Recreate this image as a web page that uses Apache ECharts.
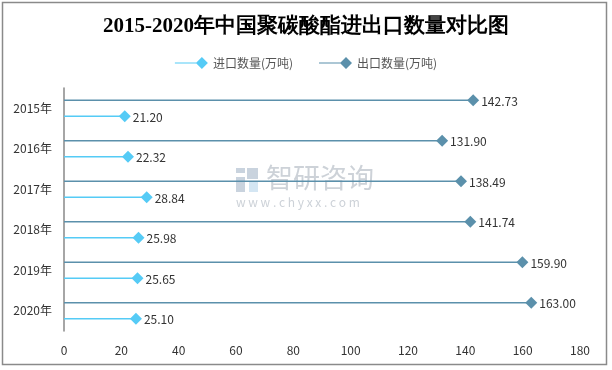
<!DOCTYPE html>
<html><head><meta charset="utf-8">
<script src="https://cdn.jsdelivr.net/npm/echarts@6/dist/echarts.min.js"></script>
<style>html,body{margin:0;padding:0;background:#fff}#c{width:612px;height:370px}</style>
</head><body><div id="c"></div>
<script>
const categories = ['2015年','2016年','2017年','2018年','2019年','2020年'];
const importValues = [21.20, 22.32, 28.84, 25.98, 25.65, 25.10];
const exportValues = [142.73, 131.90, 138.49, 141.74, 159.90, 163.00];
const xTicks = [0, 20, 40, 60, 80, 100, 120, 140, 160, 180];

const importColor = '#55CBF6';
const exportColor = '#5B90AB';
const font = '"Noto Sans CJK SC", "Noto Sans", sans-serif';

function makeRender(offsetFrac, color) {
  return function (params, api) {
    const v = api.value(0), c = api.value(1);
    const s = api.coord([0, c]);
    const e = api.coord([v, c]);
    const y = s[1] + api.size([0, 1])[1] * offsetFrac;
    const r = 6;
    return {
      type: 'group',
      children: [
        { type: 'line', shape: { x1: s[0], y1: y, x2: e[0], y2: y }, style: { stroke: color, lineWidth: 1.5 } },
        { type: 'polygon', shape: { points: [[e[0] - r, y], [e[0], y - r], [e[0] + r, y], [e[0], y + r]] }, style: { fill: color } },
        { type: 'text', style: { text: v.toFixed(2), x: e[0] + 8, y: y + 1, verticalAlign: 'middle', align: 'left', fill: '#333', font: '12px ' + font } }
      ]
    };
  };
}

const legendIcon = 'path://M0,5.4 L27,5.4 L27,6.6 L0,6.6 Z M27,0 L33,6 L27,12 L21,6 Z';

const chart = echarts.init(document.getElementById('c'), null, { renderer: 'canvas' });
chart.setOption({
  animation: false,
  title: {
    text: '2015-2020年中国聚碳酸酯进出口数量对比图',
    left: 'center', top: 11,
    textStyle: { fontSize: 21, fontWeight: 'bold', color: '#000', fontFamily: 'serif' }
  },
  legend: {
    top: 52, left: 'center', itemGap: 26, itemWidth: 33, itemHeight: 12,
    textStyle: { fontSize: 12, color: '#555', fontFamily: font },
    data: [
      { name: '进口数量(万吨)', icon: legendIcon },
      { name: '出口数量(万吨)', icon: legendIcon }
    ]
  },
  grid: { left: 64, right: 32, top: 88, height: 243, containLabel: false },
  xAxis: {
    type: 'value', min: 0, max: 180, interval: 20,
    axisLine: { show: false }, axisTick: { show: false }, splitLine: { show: false },
    axisLabel: { fontSize: 12, color: '#333', margin: 13, fontFamily: font,
      formatter: v => xTicks.includes(v) ? String(v) : '' }
  },
  yAxis: {
    type: 'category', data: categories, inverse: true,
    axisLine: { show: true, lineStyle: { color: '#888', width: 1.5 } },
    axisTick: { show: false },
    axisLabel: { fontSize: 12, color: '#333', margin: 12, fontFamily: font }
  },
  graphic: [
    { type: 'rect', shape: { x: 2.5, y: 2.5, width: 604, height: 362 }, style: { fill: 'none', stroke: '#8a8a8a', lineWidth: 1.5 }, z: 100 },
    { type: 'group', left: 236, top: 164, z: -1, children: [
      { type: 'rect', shape: { x: 0, y: 0, width: 9, height: 5 }, style: { fill: '#c9d3de' } },
      { type: 'rect', shape: { x: 11, y: 0, width: 11, height: 11 }, style: { fill: '#c9d3de' } },
      { type: 'rect', shape: { x: 0, y: 9, width: 9, height: 15 }, style: { fill: '#c9d3de' } },
      { type: 'rect', shape: { x: 13, y: 14, width: 9, height: 10 }, style: { fill: '#d4e6f3' } },
      { type: 'text', style: { text: '智研咨询', x: 30, y: -4, fill: '#cdd2d8', font: '27px ' + font } },
      { type: 'text', style: { text: 'w w w . c h y x x . c o m', x: 0, y: 28, fill: '#cdd2d8', font: '12px ' + font } }
    ] }
  ],
  series: [
    {
      name: '进口数量(万吨)', type: 'custom', itemStyle: { color: importColor },
      renderItem: makeRender(0.2, importColor), encode: { x: 0, y: 1 },
      data: importValues.map((v, i) => [v, i]), z: 3
    },
    {
      name: '出口数量(万吨)', type: 'custom', itemStyle: { color: exportColor },
      renderItem: makeRender(-0.2, exportColor), encode: { x: 0, y: 1 },
      data: exportValues.map((v, i) => [v, i]), z: 3
    }
  ]
});
</script></body></html>
